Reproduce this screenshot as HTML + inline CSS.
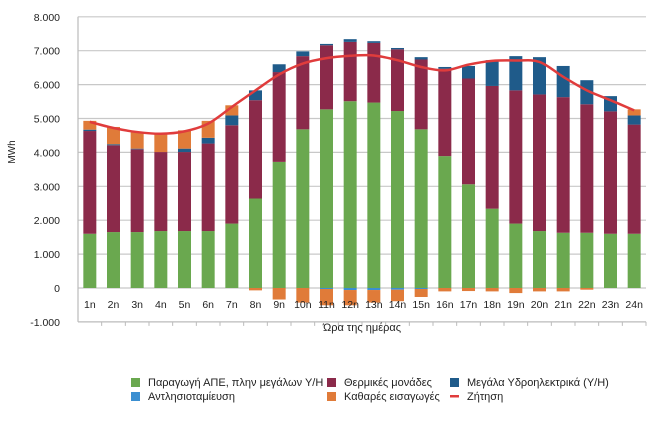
<!DOCTYPE html>
<html><head><meta charset="utf-8"><style>
body{margin:0;background:#fff;font-family:"Liberation Sans","DejaVu Sans",sans-serif;}
svg text{font-family:"Liberation Sans","DejaVu Sans",sans-serif;fill:#222;}
</style></head><body>
<svg id="chart" width="658" height="424" viewBox="0 0 658 424" xmlns="http://www.w3.org/2000/svg">
<g id="grid"></g><g id="bars"></g><g id="line"></g><g id="axes"></g>
<text x="15" y="152" transform="rotate(-90 15 152)" text-anchor="middle" font-size="10">MWh</text>
<text x="362" y="331" text-anchor="middle" font-size="11">Ώρα της ημέρας</text>
<g font-size="11">
<rect x="131" y="378" width="9" height="9" fill="#6aa84f"/><text x="148" y="386">Παραγωγή ΑΠΕ, πλην μεγάλων Υ/Η</text>
<rect x="131" y="392" width="9" height="9" fill="#3b8fd1"/><text x="148" y="400">Αντλησιοταμίευση</text>
<rect x="327" y="378" width="9" height="9" fill="#8b2a4a"/><text x="344" y="386">Θερμικές μονάδες</text>
<rect x="327" y="392" width="9" height="9" fill="#e07b39"/><text x="344" y="400">Καθαρές εισαγωγές</text>
<rect x="450" y="378" width="9" height="9" fill="#1f5b8a"/><text x="467" y="386">Μεγάλα Υδροηλεκτρικά (Υ/Η)</text>
<rect x="450" y="395" width="9" height="2.5" fill="#e03c3c"/><text x="467" y="400">Ζήτηση</text>
</g>
</svg>
<script>
const categories=["1n","2n","3n","4n","5n","6n","7n","8n","9n","10n","11n","12n","13n","14n","15n","16n","17n","18n","19n","20n","21n","22n","23n","24n"];
const res=[1600,1650,1650,1680,1680,1680,1900,2640,3720,4680,5270,5510,5470,5220,4680,3890,3060,2340,1900,1680,1630,1630,1600,1600];
const thermal=[3030,2560,2440,2330,2330,2580,2900,2900,2650,2160,1890,1750,1760,1820,2060,2580,3120,3620,3930,4030,4000,3790,3610,3220];
const hydro=[40,30,20,0,100,170,290,290,230,140,40,80,50,40,70,50,370,760,1010,1100,920,710,450,270];
const importsPos=[260,510,490,540,540,500,300,0,0,0,0,0,0,0,0,0,0,0,0,0,0,0,0,180];
const pumping=[0,0,0,0,0,0,0,0,0,0,-30,-60,-60,-50,-30,0,0,0,0,0,0,0,0,0];
const importsNeg=[0,0,0,0,0,0,0,-70,-340,-430,-480,-450,-370,-340,-235,-100,-90,-100,-150,-100,-100,-50,0,0];
const demand=[4900,4720,4600,4550,4620,4850,5340,5830,6300,6620,6780,6850,6860,6720,6520,6420,6590,6700,6710,6670,6230,5830,5540,5240];
const yTicks=[-1000,0,1000,2000,3000,4000,5000,6000,7000,8000];
const yTickLabels=["-1.000","0","1.000","2.000","3.000","4.000","5.000","6.000","7.000","8.000"];
const NS="http://www.w3.org/2000/svg";
const L=78,R=646,Y0=288,PX=33.9;
const y=v=>Y0-v*PX/1000;
const bw=(R-L)/categories.length;
const x=i=>L+bw*(i+0.5);
function mk(tag,attrs,parent){const e=document.createElementNS(NS,tag);for(const k in attrs)e.setAttribute(k,attrs[k]);document.getElementById(parent).appendChild(e);return e;}
yTicks.forEach((t,i)=>{
 const g=mk('line',{x1:L,x2:R,y1:y(t),y2:y(t),stroke:t===-1000?'#bbb':'#c8c8c8','stroke-width':1.2},'grid');
 
 
 const tx=mk('text',{x:60,y:y(t)+4,'text-anchor':'end','font-size':10.5},'axes');
 tx.textContent=yTickLabels[i];
 
 
});
const ax=mk('line',{x1:L,x2:L,y1:y(8000),y2:y(-1000),stroke:'#bbb','stroke-width':1.2},'axes');


categories.forEach((c,i)=>{
 const tk=mk('line',{x1:L+bw*(i+1),x2:L+bw*(i+1),y1:y(-1000),y2:y(-1000)+4,stroke:'#bbb'},'axes');
 
 
 const t=mk('text',{x:x(i),y:308,'text-anchor':'middle','font-size':10.5},'axes');
 t.textContent=c;
 
 
 const w=13,bx=x(i)-w/2;
 let base=0;
 [[res[i],'#6aa84f','bar-res'],[thermal[i],'#8b2a4a','bar-thermal'],[hydro[i],'#1f5b8a','bar-hydro'],[importsPos[i],'#e07b39','bar-imports']].forEach(s=>{
  if(s[0]>0){const r=mk('rect',{x:bx,y:y(base+s[0]),width:w,height:y(base)-y(base+s[0]),fill:s[1]},'bars');
  
  }
  base+=s[0];
 });
 let nb=0;
 [[pumping[i],'#3b8fd1','bar-pumping'],[importsNeg[i],'#e07b39','bar-imports-neg']].forEach(s=>{
  if(s[0]<0){const r=mk('rect',{x:bx,y:y(nb),width:w,height:y(nb+s[0])-y(nb),fill:s[1]},'bars');
  
  }
  nb+=s[0];
 });
});
const pts=demand.map((v,i)=>[x(i),y(v)]);
let d='M'+pts[0][0]+','+pts[0][1];
for(let i=0;i<pts.length-1;i++){
 const p0=pts[Math.max(0,i-1)],p1=pts[i],p2=pts[i+1],p3=pts[Math.min(pts.length-1,i+2)];
 d+=' C'+(p1[0]+(p2[0]-p0[0])/6)+','+(p1[1]+(p2[1]-p0[1])/6)+' '+(p2[0]-(p3[0]-p1[0])/6)+','+(p2[1]-(p3[1]-p1[1])/6)+' '+p2[0]+','+p2[1];
}
const ln=mk('path',{d:d,fill:'none',stroke:'#e03c3c','stroke-width':2.5},'line');


</script>
</body></html>
